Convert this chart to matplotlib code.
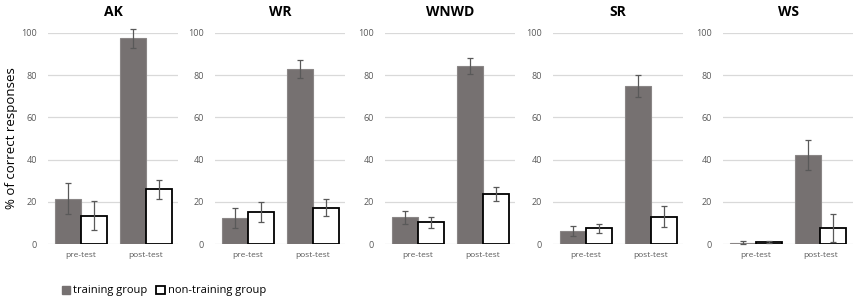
import numpy as np
import matplotlib.pyplot as plt
from matplotlib.patches import Patch

plt.rcParams['font.family'] = ['Open Sans', 'DejaVu Sans']

tasks = ['AK', 'WR', 'WNWD', 'SR', 'WS']
phases = ['pre-test', 'post-test']

# mean % correct, [pre, post] per task
training = [[21.5, 97.5], [12.2, 83.0], [12.6, 84.4], [6.3, 75.0], [0.6, 42.2]]
training_err = [[7.3, 4.6], [4.7, 4.3], [3.0, 3.7], [2.4, 5.3], [0.7, 7.0]]
non_training = [[13.5, 26.0], [15.2, 17.2], [10.2, 23.7], [7.4, 13.0], [0.9, 7.6]]
non_training_err = [[7.0, 4.5], [4.7, 4.0], [2.7, 3.3], [2.2, 5.0], [0.6, 6.6]]

W, H = 856, 300
fig = plt.figure(figsize=(W / 100, H / 100), dpi=100)

ax_left = [48, 215, 385, 553, 723]
ax_w = 130
ax_bottom = 244
ax_top = 33

x = np.arange(len(phases))
bw = 0.4

for i, task in enumerate(tasks):
    ax = fig.add_axes([ax_left[i] / W, (H - ax_bottom) / H, ax_w / W, (ax_bottom - ax_top) / H])
    ax.bar(x - bw / 2, training[i], bw, color='#767171', edgecolor='#8a8686', linewidth=0.8, zorder=2)
    ax.bar(x + bw / 2, non_training[i], bw, color='white', edgecolor='black', linewidth=1.3, zorder=2)
    ax.errorbar(x - bw / 2, training[i], yerr=training_err[i], fmt='none', ecolor='#595959',
                elinewidth=0.9, capsize=2, capthick=0.9, zorder=3, clip_on=False)
    ax.errorbar(x + bw / 2, non_training[i], yerr=non_training_err[i], fmt='none', ecolor='#595959',
                elinewidth=0.9, capsize=2, capthick=0.9, zorder=3, clip_on=False)

    ax.set_xlim(-0.5, 1.5)
    ax.set_ylim(0, 100)
    ax.set_yticks(range(0, 101, 20))
    ax.set_xticks(x)
    ax.set_xticklabels(phases, fontsize=6, color='#595959')
    ax.tick_params(axis='y', labelsize=6.5, labelcolor='#595959', length=0, pad=8)
    ax.tick_params(axis='x', length=0, pad=6)
    ax.grid(axis='y', color='#d9d9d9', linewidth=0.9, zorder=0)
    ax.set_axisbelow(True)
    for s in ax.spines.values():
        s.set_visible(False)
    ax.set_title(task, fontsize=10, fontweight='bold', pad=12)
    if i == 0:
        ax.set_ylabel('% of correct responses', fontsize=9.5)
        ax.yaxis.set_label_coords(-0.23, 0.5)

handles = [Patch(facecolor='#767171', edgecolor='#767171'),
           Patch(facecolor='white', edgecolor='black', linewidth=1.3)]
fig.legend(handles, ['training group', 'non-training group'], loc='center left',
           bbox_to_anchor=(56 / W, 1 - 291 / H), ncol=2, frameon=False, fontsize=8,
           handlelength=0.75, handleheight=0.75, handletextpad=0.3, columnspacing=0.8,
           borderpad=0)

fig.savefig('out.png', dpi=100)
